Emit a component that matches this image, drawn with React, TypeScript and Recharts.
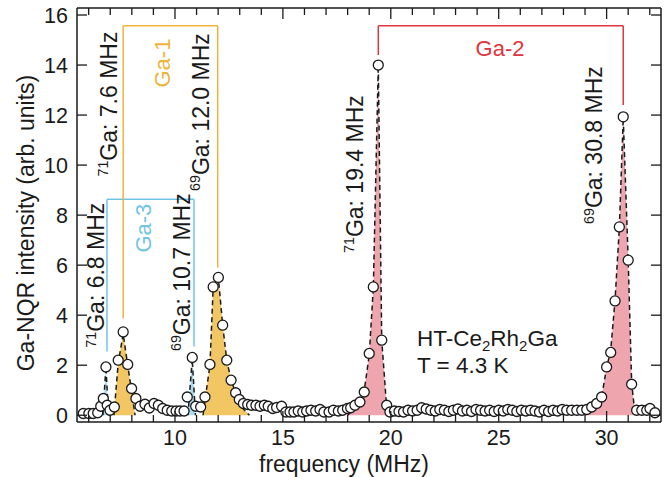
import React from "react";
import {
  ComposedChart,
  XAxis,
  YAxis,
  Area,
  Scatter,
  ReferenceLine,
  ReferenceDot,
} from "recharts";

const FONT = '"Liberation Sans", Arial, Helvetica, sans-serif';
const INK = "#1a1a1a";
const ORANGE = "#F0B43C";
const ORANGE_FILL = "#F2C763";
const BLUE = "#72C4E6";
const BLUE_FILL = "#A9DBF1";
const RED = "#E0343F";
const RED_FILL = "#EFA5AD";

// measured points (frequency in MHz, intensity in arb. units)
const freq = [
  5.75, 6.01, 6.21, 6.42, 6.56, 6.68, 6.8, 6.86, 6.99, 7.19, 7.37, 7.6, 7.81, 7.99, 8.19, 8.38, 8.61,
  8.81, 9.03, 9.23, 9.43, 9.64, 9.85, 10.05, 10.23, 10.42, 10.57, 10.8, 10.96, 11.19, 11.39, 11.62,
  11.77, 12.01, 12.21, 12.4, 12.6, 12.81, 12.98, 13.17, 13.37, 13.55, 13.75, 13.94, 14.14, 14.32,
  14.53, 14.71, 14.94, 15.14, 15.33, 15.51, 15.71, 15.92, 16.1, 16.3, 16.52, 16.72, 16.9, 17.14,
  17.34, 17.57, 17.77, 17.99, 18.14, 18.34, 18.57, 18.77, 19.0, 19.19, 19.42, 19.58, 19.81, 19.96,
  20.17, 20.38, 20.59, 20.8, 21.01, 21.22, 21.43, 21.64, 21.85, 22.06, 22.27, 22.48, 22.69, 22.9,
  23.11, 23.32, 23.53, 23.74, 23.95, 24.16, 24.37, 24.58, 24.79, 25.0, 25.21, 25.42, 25.63, 25.84,
  26.05, 26.26, 26.47, 26.68, 26.89, 27.1, 27.31, 27.52, 27.73, 27.94, 28.15, 28.38, 28.62, 28.85,
  29.08, 29.31, 29.54, 29.77, 30.0, 30.19, 30.39, 30.59, 30.77, 31.0, 31.16, 31.39, 31.63, 31.86,
  32.01, 32.24,
];
const intensity = [
  0.07, 0.07, 0.07, 0.1, 0.36, 0.67, 1.93, 0.4, 0.2, 0.33, 2.2, 3.33, 2.03, 1.07, 0.67, 0.36, 0.44,
  0.29, 0.47, 0.4, 0.27, 0.2, 0.17, 0.17, 0.17, 0.17, 0.73, 2.31, 0.36, 0.33, 0.73, 2.03,
  5.13, 5.51, 3.6, 2.2, 1.4, 0.9, 0.63, 0.47, 0.43, 0.4, 0.4, 0.36, 0.4, 0.36,
  0.27, 0.31, 0.36, 0.13, 0.13, 0.13, 0.17, 0.13, 0.17, 0.2, 0.17, 0.23, 0.13, 0.13,
  0.2, 0.17, 0.2, 0.27, 0.3, 0.4, 0.53, 0.93, 2.47, 5.13, 14.0, 3.0, 0.4, 0.13,
  0.17, 0.15, 0.13, 0.2, 0.17, 0.2, 0.3, 0.25, 0.2, 0.17, 0.23, 0.2, 0.15, 0.2,
  0.25, 0.17, 0.2, 0.15, 0.23, 0.2, 0.17, 0.2, 0.15, 0.2, 0.17, 0.23, 0.2, 0.15,
  0.2, 0.17, 0.2, 0.17, 0.13, 0.2, 0.15, 0.2, 0.17, 0.23, 0.2, 0.2, 0.2, 0.2,
  0.23, 0.33, 0.47, 0.73, 1.93, 2.51, 4.57, 7.53, 11.93, 6.2, 1.24, 0.2, 0.2, 0.2,
  0.27, 0.1,
];

// fitted lines (dashed) under each resonance: [frequency, intensity]
const ga3LowFit = [[6.66, 0], [6.8, 1.95], [6.92, 0]];
const ga3HighFit = [[10.6, 0], [10.8, 2.25], [10.95, 0]];
const ga1LowFit = [[7.17, 0], [7.37, 2.1], [7.6, 3.25], [7.81, 2.0], [8.0, 0.9], [8.15, 0]];
const ga1HighFit = [
  [11.3, 0], [11.39, 0.6], [11.62, 2.0], [11.77, 5.1], [12.01, 5.5], [12.21, 3.6], [12.4, 2.2],
  [12.6, 1.4], [12.81, 0.9], [12.98, 0.5], [13.17, 0.25], [13.45, 0],
];
const ga2LowFit = [
  [18.0, 0], [18.34, 0.3], [18.57, 0.6], [18.77, 1.0], [19.0, 2.4], [19.19, 5.1], [19.42, 14.0],
  [19.58, 3.0], [19.81, 0.3], [19.9, 0],
];
const ga2HighFit = [
  [29.0, 0], [29.31, 0.25], [29.54, 0.45], [29.77, 0.75], [30.0, 1.9], [30.19, 2.6], [30.39, 4.6],
  [30.59, 7.5], [30.77, 11.9], [31.0, 6.2], [31.16, 1.3], [31.32, 0],
];

const xTicks = [6, 7, 8, 9, 10, 11, 12, 13, 14, 15, 16, 17, 18, 19, 20, 21, 22, 23, 24, 25, 26, 27, 28, 29, 30, 31, 32];
const yTicks = [0, 2, 4, 6, 8, 10, 12, 14, 16];
const xDomain = [5.46, 32.52];
const yDomain = [-0.27, 16.28];

const points = freq.map((f, i) => ({ f, v: intensity[i] }));

const fits: [string, number[][], string][] = [
  ["g1a", ga1LowFit, ORANGE_FILL],
  ["g1b", ga1HighFit, ORANGE_FILL],
  ["g3a", ga3LowFit, BLUE_FILL],
  ["g3b", ga3HighFit, BLUE_FILL],
  ["g2a", ga2LowFit, RED_FILL],
  ["g2b", ga2HighFit, RED_FILL],
];

function buildTable() {
  const rows = new Map<number, any>();
  fits.forEach(([key, list]) =>
    list.forEach(([f, v]) => {
      const r = rows.get(f) || { f };
      r[key] = v;
      rows.set(f, r);
    })
  );
  return Array.from(rows.values()).sort((a, b) => a.f - b.f);
}
const table = buildTable();

const BottomTick = (props: any) => {
  const { x, y, payload } = props;
  const major = payload.value % 5 === 0;
  return (
    <g>
      <line x1={x} x2={x} y1={y} y2={y - (major ? 11 : 7)} stroke={INK} strokeWidth={1.3} />
      {major && (
        <text x={x} y={y + 23} textAnchor="middle" fontSize={21.5} fill={INK} fontFamily={FONT}>
          {payload.value}
        </text>
      )}
    </g>
  );
};

const TopTick = (props: any) => {
  const { x, y, payload } = props;
  const major = payload.value % 5 === 0;
  return <line x1={x} x2={x} y1={y} y2={y + (major ? 11 : 7)} stroke={INK} strokeWidth={1.3} />;
};

const LeftTick = (props: any) => {
  const { x, y, payload } = props;
  return (
    <g>
      <line x1={x} x2={x + 10} y1={y} y2={y} stroke={INK} strokeWidth={1.3} />
      <text x={x - 9} y={y + 7.5} textAnchor="end" fontSize={21.5} fill={INK} fontFamily={FONT}>
        {payload.value}
      </text>
    </g>
  );
};

const RightTick = (props: any) => {
  const { x, y } = props;
  return <line x1={x} x2={x - 10} y1={y} y2={y} stroke={INK} strokeWidth={1.3} />;
};

function rotLabel(sup: string, main: string, color = INK, size = 23) {
  return (props: any) => {
    const { x, y } = props.viewBox;
    return (
      <text
        x={x}
        y={y + size * 0.36}
        transform={`rotate(-90, ${x}, ${y})`}
        textAnchor="middle"
        fontSize={size}
        fill={color}
        fontFamily={FONT}
      >
        {sup && (
          <tspan fontSize={size * 0.62} dy={-size * 0.38}>
            {sup}
          </tspan>
        )}
        <tspan dy={sup ? size * 0.38 : 0}>{main}</tspan>
      </text>
    );
  };
}

function flatLabel(color: string, size: number, children: React.ReactNode, anchor = "middle") {
  return (props: any) => {
    const { x, y } = props.viewBox;
    return (
      <text x={x} y={y} textAnchor={anchor} fontSize={size} fill={color} fontFamily={FONT}>
        {children}
      </text>
    );
  };
}

function bracket(key: string, xa: number, ya: number, xb: number, yb: number, top: number, color: string) {
  const common = { xAxisId: "b", yAxisId: "l", stroke: color, strokeWidth: 1.5, ifOverflow: "visible" as const };
  return [
    <ReferenceLine key={key + "a"} {...common} segment={[{ x: xa, y: ya }, { x: xa, y: top }]} />,
    <ReferenceLine key={key + "b"} {...common} segment={[{ x: xa, y: top }, { x: xb, y: top }]} />,
    <ReferenceLine key={key + "c"} {...common} segment={[{ x: xb, y: top }, { x: xb, y: yb }]} />,
  ];
}

const dotAt = (key: string, x: number, y: number, label: any) => (
  <ReferenceDot
    key={key}
    xAxisId="b"
    yAxisId="l"
    x={x}
    y={y}
    r={0}
    fill="none"
    stroke="none"
    ifOverflow="visible"
    label={label}
  />
);

const axisLine = { stroke: INK, strokeWidth: 1.5 };

export default function App() {
  return (
    <div style={{ position: "absolute", left: 0, top: 0, width: 672, height: 477, background: "#fff" }}>
      <ComposedChart
        width={672}
        height={477}
        data={table}
        margin={{ top: 7, right: 10, bottom: 54, left: 76 }}
        style={{ fontFamily: FONT }}
      >
        <XAxis
          xAxisId="b"
          dataKey="f"
          type="number"
          domain={xDomain}
          ticks={xTicks}
          allowDataOverflow
          height={1}
          tickSize={0}
          tickMargin={0}
          tickLine={false}
          tick={<BottomTick />}
          interval={0}
          axisLine={axisLine}
          label={{
            content: () => (
              <text x={344} y={472} textAnchor="middle" fontSize={23} fill={INK} fontFamily={FONT}>
                frequency (MHz)
              </text>
            ),
          }}
        />
        <XAxis
          xAxisId="t"
          orientation="top"
          dataKey="f"
          type="number"
          domain={xDomain}
          ticks={xTicks}
          allowDataOverflow
          height={1}
          tickSize={0}
          tickMargin={0}
          tickLine={false}
          tick={<TopTick />}
          interval={0}
          axisLine={axisLine}
        />
        <YAxis
          yAxisId="l"
          type="number"
          domain={yDomain}
          ticks={yTicks}
          allowDataOverflow
          width={1}
          tickSize={0}
          tickMargin={0}
          tickLine={false}
          tick={<LeftTick />}
          interval={0}
          axisLine={axisLine}
          label={{
            content: () => (
              <text
                x={34}
                y={223}
                transform="rotate(-90, 34, 223)"
                textAnchor="middle"
                fontSize={23}
                fill={INK}
                fontFamily={FONT}
              >
                Ga-NQR intensity (arb. units)
              </text>
            ),
          }}
        />
        <YAxis
          yAxisId="r"
          orientation="right"
          type="number"
          domain={yDomain}
          ticks={yTicks}
          allowDataOverflow
          width={1}
          tickSize={0}
          tickMargin={0}
          tickLine={false}
          tick={<RightTick />}
          interval={0}
          axisLine={axisLine}
        />

        {fits.map(([key, , fill]) => (
          <Area
            key={key}
            xAxisId="b"
            yAxisId="l"
            dataKey={key}
            type="linear"
            fill={fill}
            fillOpacity={1}
            stroke={INK}
            strokeWidth={1.5}
            strokeDasharray="5 3.5"
            isAnimationActive={false}
            connectNulls
            dot={false}
            activeDot={false}
          />
        ))}

        {bracket("g3", 6.85, 2.55, 10.88, 2.75, 8.63, BLUE)}
        {bracket("g1", 7.6, 3.87, 11.98, 5.9, 15.57, ORANGE)}
        {bracket("g2", 19.42, 14.4, 30.77, 12.4, 15.57, RED)}

        <Scatter
          xAxisId="b"
          yAxisId="l"
          data={points}
          dataKey="v"
          isAnimationActive={false}
          shape={(p: any) => <circle cx={p.cx} cy={p.cy} r={5} fill="#fff" stroke={INK} strokeWidth={1.3} />}
        />

        {dotAt("l1", 6.34, 5.6, rotLabel("71", "Ga: 6.8 MHz"))}
        {dotAt("l2", 6.94, 12.44, rotLabel("71", "Ga: 7.6 MHz"))}
        {dotAt("l3", 11.2, 12.12, rotLabel("69", "Ga: 12.0 MHz"))}
        {dotAt("l4", 10.32, 5.72, rotLabel("69", "Ga: 10.7 MHz"))}
        {dotAt("l5", 18.34, 9.64, rotLabel("71", "Ga: 19.4 MHz"))}
        {dotAt("l6", 29.42, 10.8, rotLabel("69", "Ga: 30.8 MHz"))}
        {dotAt("g1t", 9.4, 14.08, rotLabel("", "Ga-1", ORANGE, 22))}
        {dotAt("g3t", 8.52, 7.48, rotLabel("", "Ga-3", BLUE, 22))}
        {dotAt("g2t", 25.06, 14.38, flatLabel(RED, 22, "Ga-2"))}
        {dotAt(
          "s1",
          21.21,
          2.76,
          flatLabel(
            INK,
            22.5,
            <>
              HT-Ce<tspan fontSize={15} dy={5}>2</tspan>
              <tspan dy={-5}>Rh</tspan>
              <tspan fontSize={15} dy={5}>2</tspan>
              <tspan dy={-5}>Ga</tspan>
            </>,
            "start"
          )
        )}
        {dotAt("s2", 21.21, 1.68, flatLabel(INK, 22.5, "T = 4.3 K", "start"))}
      </ComposedChart>
    </div>
  );
}
